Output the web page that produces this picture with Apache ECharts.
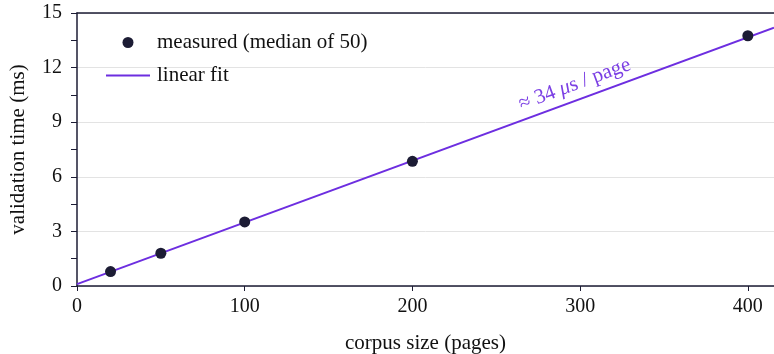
<!DOCTYPE html>
<html>
<head>
<meta charset="utf-8">
<script src="https://cdn.jsdelivr.net/npm/echarts@6/dist/echarts.min.js"></script>
<style>
  html, body { margin: 0; padding: 0; background: #fff; }
  #chart { width: 774px; height: 354px; }
</style>
</head>
<body>
<div id="chart"></div>
<script>
// datos medidos (mediana de 50 corridas)
const corpusSizes = [20, 50, 100, 200, 400];
const validationMs = [0.79, 1.80, 3.52, 6.85, 13.75];

// extremos de la recta de ajuste
const fitX = [0, 415.6];
const fitY = [0.10, 14.19];

const xTicks = [0, 100, 200, 300, 400];
const yTicks = [0, 3, 6, 9, 12, 15];

const font = 'Liberation Serif';
const ink = '#1c1c34';
const purple = '#6d2ee0';

const chart = echarts.init(document.getElementById('chart'));

const option = {
    animation: false,
    textStyle: { fontFamily: font },
    grid: { left: 77, right: 0, top: 13, bottom: 68, outerBoundsMode: 'none', containLabel: false },
    legend: {
        orient: 'vertical',
        left: 100,
        top: 27,
        itemWidth: 44,
        itemHeight: 11,
        itemGap: 12,
        textStyle: { fontFamily: font, fontSize: 21, color: '#111', padding: [0, 0, 0, 2] },
        data: [
            { name: 'measured (median of 50)', icon: 'circle' },
            { name: 'linear fit', itemStyle: { opacity: 0 } }
        ]
    },
    xAxis: [{
        type: 'value',
        min: 0,
        max: 415.6,
        interval: 100,
        name: 'corpus size (pages)',
        nameLocation: 'middle',
        nameGap: 47,
        nameTextStyle: { fontFamily: font, fontSize: 21, color: '#111' },
        splitLine: { show: false },
        axisLine: { lineStyle: { color: ink, width: 1.5 } },
        axisTick: { length: 5, lineStyle: { color: ink }, customValues: xTicks },
        axisLabel: { fontFamily: font, fontSize: 20, color: '#111', margin: 11, customValues: xTicks }
    }, {
        type: 'value',
        position: 'top',
        min: 0,
        max: 415.6,
        axisLine: { show: true, lineStyle: { color: ink, width: 1.5 } },
        axisTick: { show: false },
        axisLabel: { show: false },
        splitLine: { show: false }
    }],
    yAxis: {
        type: 'value',
        min: 0,
        max: 15,
        interval: 3,
        name: 'validation time (ms)',
        nameLocation: 'middle',
        nameGap: 48,
        nameTextStyle: { fontFamily: font, fontSize: 21, color: '#111' },
        axisLine: { show: true, lineStyle: { color: ink, width: 1.5 } },
        axisTick: { show: true, length: 6, lineStyle: { color: ink } },
        minorTick: { show: true, splitNumber: 2, length: 6, lineStyle: { color: ink } },
        axisLabel: { fontFamily: font, fontSize: 20, color: '#111', margin: 15, customValues: yTicks },
        splitLine: { show: true, lineStyle: { color: '#e3e3e3', width: 1 } }
    },
    series: [
        {
            name: 'linear fit',
            type: 'line',
            data: fitX.map((x, i) => [x, fitY[i]]),
            symbol: 'none',
            lineStyle: { color: purple, width: 2 },
            itemStyle: { color: purple },
            z: 2
        },
        {
            name: 'measured (median of 50)',
            type: 'scatter',
            data: corpusSizes.map((x, i) => [x, validationMs[i]]),
            symbolSize: 11,
            itemStyle: { color: ink, opacity: 1 },
            z: 3
        }
    ]
};

chart.setOption(option);

// etiqueta de la pendiente, girada sobre la recta
const anchor = chart.convertToPixel({ gridIndex: 0 }, [299, 10.53]);
chart.setOption({
    graphic: [{
        type: 'text',
        x: anchor[0],
        y: anchor[1],
        rotation: 0.355,
        style: {
            text: '≈ 34 {i|μ}s / page',
            fontFamily: font,
            fontSize: 21,
            fill: '#7b3fe4',
            align: 'center',
            verticalAlign: 'bottom',
            rich: {
                i: { fontFamily: font, fontSize: 21, fontStyle: 'italic', fill: '#7b3fe4' }
            }
        }
    }]
});
</script>
</body>
</html>
